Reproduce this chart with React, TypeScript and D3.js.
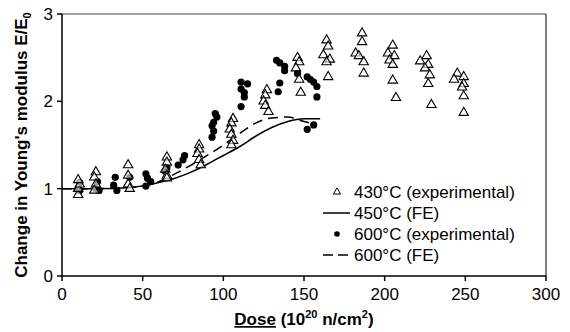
import React from "react";
import * as d3 from "d3";

// 430°C experimental (dose, E/E0)
const exp430: [number, number][] = [
  [10, 0.93], [10, 1.0], [11, 1.05], [10, 1.1],
  [21, 1.19], [20, 1.13], [21, 1.05], [20, 0.98],
  [41, 1.27], [41, 1.15], [41, 1.05], [42, 1.0],
  [65, 1.36], [65, 1.3], [64, 1.22], [65, 1.15], [65, 1.12],
  [85, 1.5], [85, 1.45], [84, 1.4], [85, 1.33], [86, 1.27],
  [106, 1.8], [105, 1.75], [104, 1.68], [105, 1.62], [106, 1.55], [105, 1.5],
  [127, 2.13], [126, 2.07], [125, 2.0], [126, 1.95], [128, 1.88],
  [146, 2.5], [147, 2.45], [145, 2.38], [147, 2.25], [148, 2.1],
  [164, 2.7], [165, 2.63], [162, 2.53], [166, 2.48], [164, 2.45], [165, 2.28],
  [186, 2.78], [186, 2.68], [182, 2.55], [184, 2.52], [187, 2.45], [187, 2.32],
  [205, 2.64], [202, 2.55], [206, 2.52], [203, 2.47], [205, 2.42], [205, 2.24], [207, 2.04],
  [226, 2.52], [222, 2.46], [227, 2.42], [225, 2.38], [228, 2.3], [227, 2.2], [229, 1.96],
  [245, 2.32], [249, 2.28], [243, 2.25], [249, 2.2], [248, 2.16], [249, 2.06], [249, 1.87],
];

// 600°C experimental
const exp600: [number, number][] = [
  [11, 1.07], [10, 1.0], [11, 0.98],
  [22, 1.08], [21, 1.0], [23, 0.98],
  [33, 1.13], [32, 1.04], [34, 0.98],
  [42, 1.13],
  [52, 1.17], [53, 1.12], [55, 1.08], [52, 1.03],
  [65, 1.24], [64, 1.2],
  [76, 1.38], [75, 1.33], [72, 1.27],
  [95, 1.86], [96, 1.82], [94, 1.76], [93, 1.72], [94, 1.66], [93, 1.59],
  [111, 2.22], [115, 2.2], [111, 2.14], [113, 2.1], [113, 2.05], [111, 1.94],
  [133, 2.47], [135, 2.44], [138, 2.4], [138, 2.35], [135, 2.21], [134, 2.11],
  [146, 2.32], [152, 2.28], [154, 2.25], [156, 2.22], [158, 2.17], [158, 2.05],
  [152, 1.68], [156, 1.73],
];

// FE curves
const fe450: [number, number][] = [
  [0, 1.0], [20, 1.0], [40, 1.01], [50, 1.03], [60, 1.07], [70, 1.12], [80, 1.19],
  [90, 1.28], [100, 1.38], [110, 1.48], [120, 1.6], [130, 1.7], [140, 1.77],
  [150, 1.8], [160, 1.8],
];
const fe600: [number, number][] = [
  [0, 1.0], [20, 1.0], [40, 1.01], [50, 1.03], [60, 1.08], [70, 1.17], [80, 1.27],
  [90, 1.38], [100, 1.5], [110, 1.63], [120, 1.75], [130, 1.81], [140, 1.82],
  [150, 1.77], [158, 1.73],
];

const xTicks = [0, 50, 100, 150, 200, 250, 300];
const yTicks = [0, 1, 2, 3];
const legendItems = ["430°C (experimental)", "450°C (FE)", "600°C (experimental)", "600°C (FE)"];

const W = 570;
const H = 332;
const m = { left: 62, right: 24, top: 14, bottom: 56 };
const font = "'Liberation Sans', Arial, sans-serif";

export default function App() {
  const x = d3.scaleLinear().domain([0, 300]).range([m.left, W - m.right]);
  const y = d3.scaleLinear().domain([0, 3]).range([H - m.bottom, m.top]);
  const line = d3.line<[number, number]>().x((d) => x(d[0])).y((d) => y(d[1])).curve(d3.curveMonotoneX);
  const tri = d3.symbol().type(d3.symbolTriangle).size(38)();
  const triSmall = d3.symbol().type(d3.symbolTriangle).size(22)();

  const lx = 337;
  const ly0 = 192;
  const dy = 21;

  return (
    <svg width={W} height={H} style={{ position: "absolute", left: 0, top: 0, background: "#fff" }} fontFamily={font}>
      {/* frame */}
      <line x1={m.left} x2={W - m.right} y1={y(3)} y2={y(3)} stroke="#808080" strokeWidth={1.5} />
      <line x1={W - m.right} x2={W - m.right} y1={y(3)} y2={y(0)} stroke="#000" />
      <line x1={m.left} x2={m.left} y1={y(3)} y2={y(0)} stroke="#000" strokeWidth={1.5} />
      <line x1={m.left} x2={W - m.right} y1={y(0)} y2={y(0)} stroke="#000" strokeWidth={1.5} />

      {xTicks.map((t) => (
        <g key={"x" + t}>
          <line x1={x(t)} x2={x(t)} y1={y(0)} y2={y(0) + 5} stroke="#000" strokeWidth={1.5} />
          <text x={x(t)} y={y(0) + 24} textAnchor="middle" fontSize={17}>{t}</text>
        </g>
      ))}
      {yTicks.map((t) => (
        <g key={"y" + t}>
          <line x1={m.left - 5} x2={m.left} y1={y(t)} y2={y(t)} stroke="#000" strokeWidth={1.5} />
          <text x={m.left - 9} y={y(t) + 6} textAnchor="end" fontSize={17}>{t}</text>
        </g>
      ))}

      <text x={(m.left + W - m.right) / 2} y={325} textAnchor="middle" fontSize={17} fontWeight="bold">
        <tspan textDecoration="underline">Dose</tspan>
        <tspan> (10</tspan>
        <tspan fontSize={11} dy={-7}>20</tspan>
        <tspan dy={7}> n/cm</tspan>
        <tspan fontSize={11} dy={-7}>2</tspan>
        <tspan dy={7}>)</tspan>
      </text>
      <text transform={`translate(27,${(y(0) + y(3)) / 2}) rotate(-90)`} textAnchor="middle" fontSize={17} fontWeight="bold">
        Change in Young's modulus E/E<tspan fontSize={11} dy={4}>0</tspan>
      </text>

      {/* FE curves */}
      <path d={line(fe450) ?? ""} fill="none" stroke="#000" strokeWidth={1.5} />
      <path d={line(fe600) ?? ""} fill="none" stroke="#000" strokeWidth={1.5} strokeDasharray="10,6" />

      {exp600.map((d, i) => (
        <circle key={"c" + i} cx={x(d[0])} cy={y(d[1])} r={3.6} fill="#000" />
      ))}
      {exp430.map((d, i) => (
        <path key={"t" + i} d={tri ?? ""} transform={`translate(${x(d[0])},${y(d[1])})`} fill="#fff" fillOpacity={0.6} stroke="#000" strokeWidth={1.1} />
      ))}

      {/* legend */}
      <g fontSize={17}>
        <path d={triSmall ?? ""} transform={`translate(${lx},${ly0})`} fill="#fff" stroke="#000" />
        <line x1={323} x2={350} y1={ly0 + dy} y2={ly0 + dy} stroke="#000" strokeWidth={1.5} />
        <circle cx={lx} cy={ly0 + 2 * dy} r={2.8} fill="#000" />
        <line x1={323} x2={350} y1={ly0 + 3 * dy} y2={ly0 + 3 * dy} stroke="#000" strokeWidth={1.5} strokeDasharray="10,5" />
        {legendItems.map((t, i) => (
          <text key={t} x={354} y={ly0 + i * dy + 6}>{t}</text>
        ))}
      </g>
    </svg>
  );
}
